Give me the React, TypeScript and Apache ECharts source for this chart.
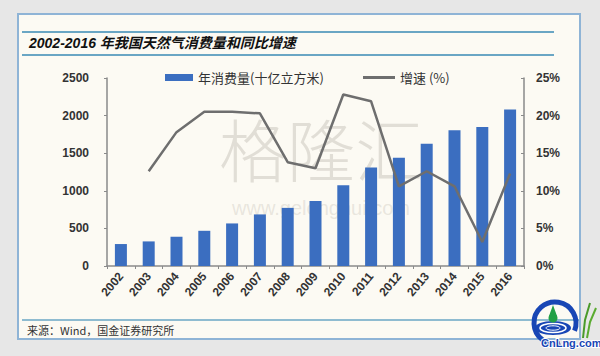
import React, { useEffect, useRef } from "react";
import * as echarts from "echarts";

const years = ["2002","2003","2004","2005","2006","2007","2008","2009","2010","2011","2012","2013","2014","2015","2016"];
const consumption = [292, 327, 389, 468, 566, 686, 773, 866, 1074, 1309, 1441, 1627, 1804, 1847, 2082];
const growth: (number | string)[] = ["-", 12.6, 17.8, 20.5, 20.5, 20.3, 13.8, 13.0, 22.8, 21.9, 10.6, 12.6, 10.6, 3.2, 12.3];
const leftTicks = { min: 0, max: 2500, interval: 500 };
const rightTicks = { min: 0, max: 25, interval: 5 };
const barName = "年消费量(十亿立方米)";
const lineName = "增速 (%)";
const titleText = "2002-2016 年我国天然气消费量和同比增速";
const sourceText = "来源：Wind，国金证券研究所";

const CJK = '"Noto Sans CJK SC", "Noto Sans", sans-serif';
const LAT = 'Arial, "Liberation Sans", "Noto Sans CJK SC", sans-serif';

export default function App() {
  const ref = useRef<HTMLDivElement>(null);
  useEffect(() => {
    document.body.style.margin = "0";
    const chart = echarts.init(ref.current!, null, { renderer: "svg" });
    const blue = "#1846b5";
    chart.setOption({
      animation: false,
      backgroundColor: "#e7e7e7",
      textStyle: { fontFamily: LAT },
      graphic: [
        { type: "rect", z: -10, shape: { x: 18, y: 14, width: 562, height: 325 }, style: { fill: "#fcfaf3", stroke: "#8fb4d6", lineWidth: 2 } },
        { type: "line", z: -9, shape: { x1: 22, y1: 32, x2: 554, y2: 32 }, style: { stroke: "#6aa6c4", lineWidth: 2 } },
        { type: "line", z: -9, shape: { x1: 22, y1: 55, x2: 554, y2: 55 }, style: { stroke: "#6aa6c4", lineWidth: 2 } },
        { type: "line", z: -9, shape: { x1: 22, y1: 320, x2: 579, y2: 320 }, style: { stroke: "#6aa6c4", lineWidth: 1.5 } },
        { type: "text", z: -8, x: 29, y: 43, style: { text: titleText, font: `italic bold 14px ${LAT}`, fill: "#111", textVerticalAlign: "middle" } },
        { type: "text", z: -8, x: 27, y: 330, style: { text: sourceText, font: `11px ${CJK}`, fill: "#333", textVerticalAlign: "middle" } },
        { type: "text", z: -8, x: 321, y: 147, style: { text: "格隆汇", font: `300 68px ${CJK}`, fill: "rgba(185,180,170,0.4)", textAlign: "center", textVerticalAlign: "middle" } },
        { type: "text", z: -8, x: 321, y: 208, style: { text: "www.gelonghui.com", font: `20px ${LAT}`, fill: "rgba(185,180,170,0.3)", textAlign: "center", textVerticalAlign: "middle" } },
        // logo
        { type: "arc", z: 50, shape: { cx: 555, cy: 323, r: 21, startAngle: Math.PI * 0.42, endAngle: Math.PI * 0.12 + Math.PI * 2, clockwise: true }, style: { stroke: blue, lineWidth: 5, fill: "none" } },
        { type: "ellipse", z: 50, shape: { cx: 553, cy: 328, rx: 18, ry: 7 }, style: { fill: blue } },
        { type: "ellipse", z: 51, shape: { cx: 553, cy: 328, rx: 13, ry: 4.5 }, style: { fill: "none", stroke: "#ffffff", lineWidth: 1.5 } },
        { type: "ellipse", z: 51, shape: { cx: 553, cy: 328, rx: 7, ry: 2.2 }, style: { fill: "none", stroke: "#ffffff", lineWidth: 1 } },
        { type: "circle", z: 52, shape: { cx: 553, cy: 318, r: 4.5 }, style: { fill: "#22a045" } },
        { type: "polygon", z: 52, shape: { points: [[553, 305], [549, 316], [557, 316]] }, style: { fill: "#22a045" } },
        { type: "polyline", z: 50, shape: { points: [[583, 338], [585, 320], [590, 303]] }, style: { stroke: "#4a9a2a", lineWidth: 2, fill: "none" } },
        { type: "polyline", z: 50, shape: { points: [[587, 338], [590, 322], [596, 308]] }, style: { stroke: "#5aab30", lineWidth: 2, fill: "none" } },
        { type: "text", z: 53, x: 541, y: 343, style: { text: "CnLng.com", font: `bold 11px ${LAT}`, fill: blue, stroke: "#ffffff", lineWidth: 2, textVerticalAlign: "middle" } },
      ],
      legend: [
        {
          left: 165,
          top: 71,
          padding: 0,
          itemWidth: 28,
          itemHeight: 7,
          textStyle: { fontSize: 13, color: "#333", fontFamily: CJK },
          data: [{ name: barName, icon: "rect" }],
        },
        {
          left: 363,
          top: 71,
          padding: 0,
          itemWidth: 32,
          itemHeight: 3,
          textStyle: { fontSize: 13, color: "#333", fontFamily: CJK },
          data: [{ name: lineName, icon: "rect" }],
        },
      ],
      grid: { left: 107, right: 76, top: 78, bottom: 90, containLabel: false },
      xAxis: {
        type: "category",
        data: years,
        axisLine: { lineStyle: { color: "#8a8a8a", width: 1.5 } },
        axisTick: { show: true, length: 3, lineStyle: { color: "#8a8a8a" } },
        axisLabel: { show: true, rotate: 50, interval: 0, fontSize: 12, color: "#333", fontWeight: "bold", margin: 8 },
      },
      yAxis: [
        {
          type: "value",
          ...leftTicks,
          axisLine: { show: true, lineStyle: { color: "#8a8a8a", width: 1.5 } },
          axisTick: { show: true, length: 3, lineStyle: { color: "#8a8a8a" } },
          splitLine: { show: false },
          axisLabel: { fontSize: 12, color: "#333", fontWeight: "bold", margin: 18, formatter: (v: number) => String(v) },
        },
        {
          type: "value",
          ...rightTicks,
          position: "right",
          axisLine: { show: true, lineStyle: { color: "#8a8a8a", width: 1.5 } },
          axisTick: { show: true, inside: true, length: 3, lineStyle: { color: "#8a8a8a" } },
          splitLine: { show: false },
          axisLabel: { fontSize: 12, color: "#333", fontWeight: "bold", margin: 12, formatter: "{value}%" },
        },
      ],
      series: [
        { name: barName, type: "bar", data: consumption, barWidth: 12, itemStyle: { color: "#3b6ec0" }, yAxisIndex: 0 },
        { name: lineName, type: "line", data: growth, yAxisIndex: 1, symbol: "none", lineStyle: { color: "#6e6e6e", width: 2.5 }, itemStyle: { color: "#6e6e6e" } },
      ],
    });
    return () => chart.dispose();
  }, []);
  return <div ref={ref} style={{ position: "absolute", left: 0, top: 0, width: 600, height: 356 }} />;
}
